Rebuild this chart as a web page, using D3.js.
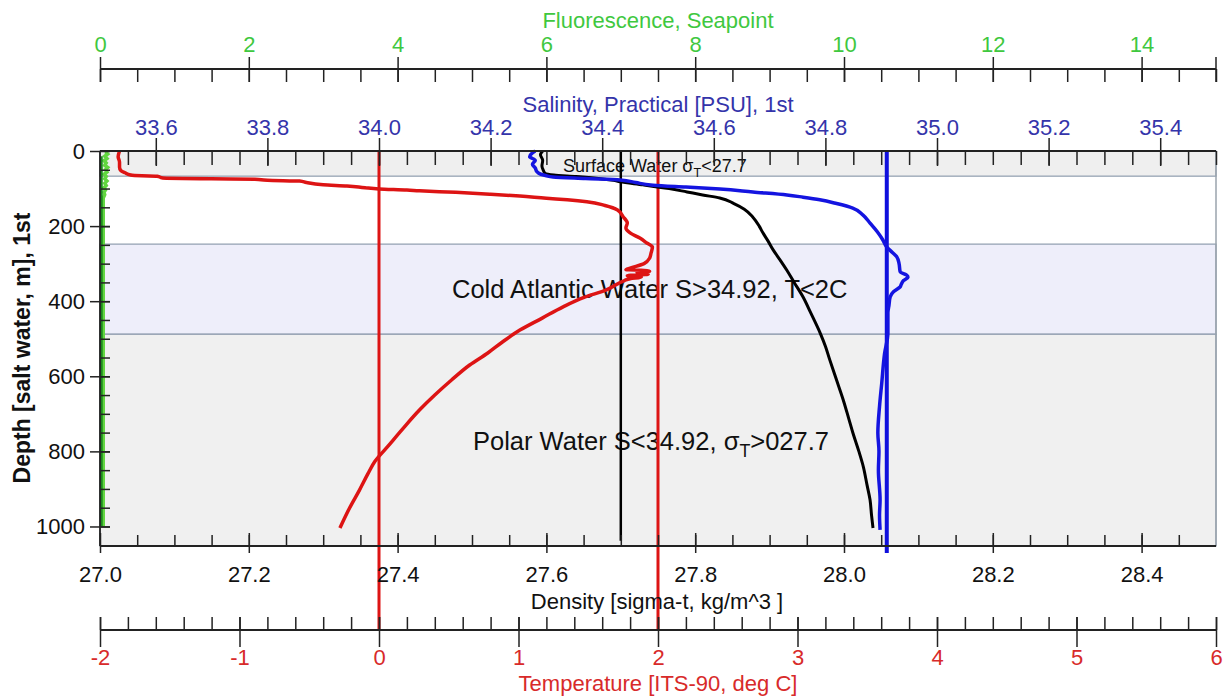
<!DOCTYPE html>
<html>
<head>
<meta charset="utf-8">
<script src="https://cdnjs.cloudflare.com/ajax/libs/d3/7.8.5/d3.min.js"></script>
<style>
  body { margin: 0; background: #fff; }
  svg { font-family: Arial, "Liberation Sans", sans-serif; }
</style>
</head>
<body>
<svg id="chart" width="1227" height="700"></svg>
<script>
// ---- data ----
var tempDepth = [0,15,30,43,52,58,64,66,67,72,74,75,78,80,84,90,93,98,101,104,106,110,115,120,126,130,135,145,157,175,192,205,218,232,245,256,272,285,300,312,316,318,320,324,328,332,336,340,345,370,390,415,445,477,510,538,570,610,650,690,740,788,827,860,903,950,1004];
var tempVal   = [-1.86,-1.87,-1.86,-1.86,-1.85,-1.82,-1.78,-1.70,-1.59,-1.55,-1.20,-0.89,-0.80,-0.57,-0.52,-0.40,-0.23,-0.10,0.00,0.20,0.29,0.55,0.80,1.01,1.20,1.35,1.49,1.62,1.71,1.75,1.78,1.77,1.80,1.87,1.92,1.96,1.95,1.94,1.90,1.80,1.77,1.90,1.94,1.85,1.93,1.78,1.88,1.80,1.76,1.63,1.47,1.32,1.17,1.01,0.88,0.78,0.65,0.52,0.40,0.29,0.17,0.06,-0.03,-0.08,-0.14,-0.21,-0.28];

var salDepth = [0,5,15,25,35,45,55,62,66,69,73,77,84,91,96,101,109,117,123,130,140,152,170,192,215,237,256,270,282,300,322,330,336,345,355,362,375,389,410,431,485,540,618,680,751,800,850,929,970,1009];
var salVal   = [34.28,34.275,34.27,34.28,34.275,34.28,34.283,34.29,34.30,34.312,34.37,34.432,34.46,34.491,34.55,34.611,34.67,34.731,34.76,34.79,34.82,34.849,34.867,34.88,34.893,34.903,34.91,34.92,34.928,34.932,34.934,34.945,34.948,34.94,34.936,34.934,34.922,34.916,34.914,34.912,34.912,34.906,34.901,34.897,34.894,34.896,34.895,34.898,34.897,34.898];

var densDepth = [0,10,25,40,52,59,64,68,73,78,82,90,100,109,117,125,140,155,175,200,218,240,264,290,317,350,389,430,485,520,557,610,663,710,751,800,841,890,929,970,1004];
var densVal   = [27.595,27.592,27.595,27.594,27.596,27.598,27.61,27.64,27.67,27.69,27.699,27.73,27.765,27.789,27.81,27.833,27.852,27.866,27.877,27.886,27.891,27.898,27.905,27.914,27.923,27.933,27.945,27.955,27.968,27.975,27.981,27.99,27.999,28.006,28.012,28.02,28.026,28.031,28.035,28.037,28.039];

var fluorDepth = [2,8,14,20,26,32,38,44,50,56,62,68,74,80,86,92,98,104,110,116,125,150,200,250,300,400,500,600,700,800,900,1000];
var fluorVal   = [0.06,0.09,0.05,0.08,0.04,0.07,0.05,0.09,0.06,0.08,0.04,0.07,0.05,0.08,0.05,0.07,0.04,0.06,0.04,0.05,0.03,0.03,0.03,0.03,0.03,0.03,0.03,0.03,0.03,0.03,0.03,0.03];

// reference lines
var tempRefs = [0, 2];
var salRefs = [34.91];
var densRefs = [27.7];

// water mass bands (depth limits)
var bandTop    = [0, 248, 488];
var bandBottom = [67, 488, 1052];
var bandFill   = ["#efefef", "#eeeefa", "#f0f0f0"];

// axis ticks
var fluorTicks = [0,2,4,6,8,10,12,14];
var salTicks = [33.6,33.8,34.0,34.2,34.4,34.6,34.8,35.0,35.2,35.4];
var densTicks = [27.0,27.2,27.4,27.6,27.8,28.0,28.2,28.4];
var tempTicks = [-2,-1,0,1,2,3,4,5,6];
var depthTicks = [0,200,400,600,800,1000];

// ---- layout ----
var L = 100, R = 1216, T = 151, B = 546;
var svg = d3.select("#chart");

var y = d3.scaleLinear().domain([0, 1052]).range([T, B]);
var xFluor = d3.scaleLinear().domain([0, 15]).range([L, R]);
var xSal = d3.scaleLinear().domain([33.5, 35.5]).range([L, R]);
var xDens = d3.scaleLinear().domain([27.0, 28.5]).range([L, R]);
var xTemp = d3.scaleLinear().domain([-2, 6]).range([L, R]);

// bands
svg.selectAll("rect.band")
  .data(bandTop)
  .enter().append("rect")
  .attr("class", "band")
  .attr("x", L)
  .attr("width", R - L)
  .attr("y", function(d) { return y(d); })
  .attr("height", function(d, i) { return y(bandBottom[i]) - y(d); })
  .style("fill", function(d, i) { return bandFill[i]; })
  .style("stroke", "#8e9cae")
  .style("stroke-width", 1.2);

svg.append("line").attr("x1", R).attr("x2", R).attr("y1", T).attr("y2", B)
  .style("stroke", "#9aa3ad").style("stroke-width", 1.5);

// region labels
function subLabel(x, yy, size, parts) {
  var t = svg.append("text").attr("x", x).attr("y", yy)
    .style("font-size", size + "px").style("fill", "#111");
  parts.forEach(function(p) {
    var s = t.append("tspan").text(p[0]);
    if (p[1] == "sub") s.attr("dy", size * 0.28).style("font-size", (size * 0.7) + "px");
    if (p[1] == "up") s.attr("dy", -size * 0.28);
  });
}
subLabel(563, 172, 18, [["Surface Water σ"], ["T", "sub"], ["<27.7", "up"]]);
subLabel(452, 298, 25.5, [["Cold Atlantic Water S>34.92, T<2C"]]);
subLabel(473, 450, 25.5, [["Polar Water S<34.92, σ"], ["T", "sub"], [">027.7", "up"]]);

// fluorescence
svg.append("path").datum(fluorDepth)
  .attr("d", d3.line()
    .x(function(d, i) { return xFluor(fluorVal[i]) + 1; })
    .y(function(d) { return y(d); }))
  .style("fill", "none").style("stroke", "#62d640").style("stroke-width", 3.5);
svg.append("path").datum(fluorDepth.slice(2))
  .attr("d", d3.line()
    .x(function(d) { return xFluor(0.02); })
    .y(function(d) { return y(d); }))
  .style("fill", "none").style("stroke", "#1e8c1e").style("stroke-width", 2.5);

// reference lines
svg.selectAll("line.tref").data(tempRefs).enter().append("line")
  .attr("x1", function(d) { return xTemp(d); }).attr("x2", function(d) { return xTemp(d); })
  .attr("y1", T).attr("y2", 630)
  .style("stroke", "#dd1414").style("stroke-width", 3);
svg.selectAll("line.sref").data(salRefs).enter().append("line")
  .attr("x1", function(d) { return xSal(d); }).attr("x2", function(d) { return xSal(d); })
  .attr("y1", T).attr("y2", 553)
  .style("stroke", "#1010dd").style("stroke-width", 4);
svg.selectAll("line.dref").data(densRefs).enter().append("line")
  .attr("x1", function(d) { return xDens(d); }).attr("x2", function(d) { return xDens(d); })
  .attr("y1", T).attr("y2", y(1038))
  .style("stroke", "#000").style("stroke-width", 2.5);

// profiles
function profile(depths, vals, xs, color, w) {
  svg.append("path").datum(depths)
    .attr("d", d3.line()
      .curve(d3.curveMonotoneY)
      .x(function(d, i) { return xs(vals[i]); })
      .y(function(d) { return y(d); }))
    .style("fill", "none").style("stroke", color)
    .style("stroke-width", w).style("stroke-linejoin", "round");
}
profile(tempDepth, tempVal, xTemp, "#dd1414", 3.5);
profile(densDepth, densVal, xDens, "#000", 3);
profile(salDepth, salVal, xSal, "#1414e0", 3.5);

// ---- axes ----
function styleAxis(g, color) {
  g.select(".domain").remove();
  g.selectAll("line").style("stroke", "#222").style("stroke-width", 1.5);
  g.selectAll("text").style("fill", color).style("font-size", "22px")
    .style("font-family", "Arial, 'Liberation Sans', sans-serif");
}
function hline(yy) {
  svg.append("line").attr("x1", L).attr("x2", R).attr("y1", yy).attr("y2", yy)
    .style("stroke", "#222").style("stroke-width", 1.8);
}
var plain = function(d) { return String(d); };

// fluorescence (top)
svg.append("g").attr("transform", "translate(0,82)")
  .call(d3.axisTop(xFluor).tickValues(d3.range(0, 15.01, 0.5)).tickSize(13).tickFormat(""))
  .call(styleAxis, "#000");
svg.append("g").attr("transform", "translate(0,82)")
  .call(d3.axisTop(xFluor).tickValues(fluorTicks).tickSize(25).tickPadding(5).tickFormat(plain))
  .call(styleAxis, "#3fc83f");
svg.append("line").attr("x1", R).attr("x2", R).attr("y1", 57).attr("y2", 82)
  .style("stroke", "#222").style("stroke-width", 1.5);
hline(69);

// salinity (top of plot)
svg.append("g").attr("transform", "translate(0,165)")
  .call(d3.axisTop(xSal).tickValues(d3.range(33.55, 35.5, 0.05)).tickSize(14).tickFormat(""))
  .call(styleAxis, "#000");
svg.append("g").attr("transform", "translate(0,166)")
  .call(d3.axisTop(xSal).tickValues(salTicks).tickSize(28).tickPadding(3).tickFormat(d3.format(".1f")))
  .call(styleAxis, "#3434aa");
hline(T);

// depth (left)
svg.append("g").attr("transform", "translate(110,0)")
  .call(d3.axisLeft(y).tickValues(d3.range(50, 1001, 50)).tickSize(9).tickFormat(""))
  .call(styleAxis, "#000");
svg.append("g").attr("transform", "translate(110,0)")
  .call(d3.axisLeft(y).tickValues(depthTicks).tickSize(20).tickPadding(5).tickFormat(plain))
  .call(styleAxis, "#111");
svg.append("line").attr("x1", L).attr("x2", L).attr("y1", T).attr("y2", B)
  .style("stroke", "#222").style("stroke-width", 1.8);

// density (bottom of plot)
svg.append("g").attr("transform", "translate(0,535)")
  .call(d3.axisBottom(xDens).tickValues(d3.range(27.05, 28.5, 0.05)).tickSize(12).tickFormat(""))
  .call(styleAxis, "#000");
svg.append("g").attr("transform", "translate(0,533)")
  .call(d3.axisBottom(xDens).tickValues(densTicks).tickSize(20).tickPadding(13).tickFormat(d3.format(".1f")))
  .call(styleAxis, "#111");
hline(B);

// temperature (bottom)
svg.append("g").attr("transform", "translate(0,617)")
  .call(d3.axisBottom(xTemp).tickValues(d3.range(-2, 6.01, 0.2)).tickSize(13).tickFormat(""))
  .call(styleAxis, "#000");
svg.append("g").attr("transform", "translate(0,617)")
  .call(d3.axisBottom(xTemp).tickValues(tempTicks).tickSize(30).tickPadding(2).tickFormat(plain))
  .call(styleAxis, "#d82a2a");
hline(630);

// titles
function title(txt, x, yy, color) {
  svg.append("text").attr("x", x).attr("y", yy).attr("text-anchor", "middle")
    .style("font-size", "22px").style("fill", color).text(txt);
}
title("Fluorescence, Seapoint", 658, 28, "#3fc83f");
title("Salinity, Practical [PSU], 1st", 658, 112, "#3434aa");
title("Density [sigma-t, kg/m^3 ]", 657, 609, "#111");
title("Temperature [ITS-90, deg C]", 658, 691, "#d82a2a");

svg.append("text")
  .attr("transform", "translate(30,348) rotate(-90)")
  .attr("text-anchor", "middle")
  .style("font-size", "23px").style("font-weight", "bold").style("fill", "#111")
  .text("Depth [salt water, m], 1st");
</script>
</body>
</html>
